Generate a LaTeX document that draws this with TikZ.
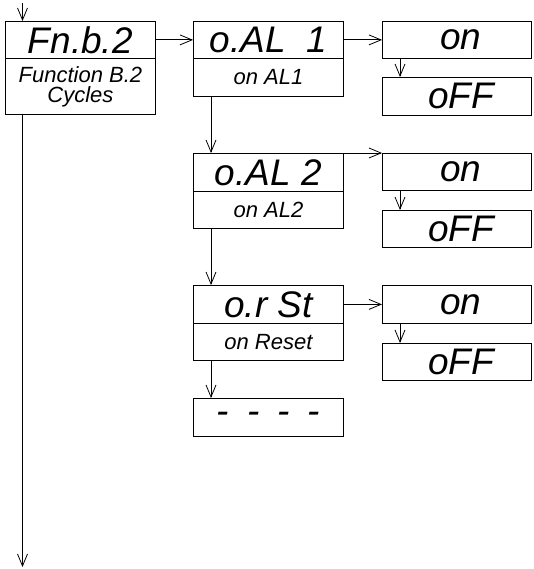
\documentclass[tikz,border=0pt]{standalone}
\usepackage{fontspec}
\setsansfont{Liberation Sans}
\usetikzlibrary{arrows.meta}
\tikzset{
  seg/.style={draw, line width=0.8pt, rectangle, anchor=north west, inner sep=0pt,
    minimum width=150pt, font=\fontsize{37}{37}\sffamily\itshape},
  lab/.style={draw, line width=0.8pt, rectangle, anchor=north west, inner sep=0pt,
    minimum width=150pt, font=\fontsize{22}{20}\sffamily\itshape, align=center},
  conn/.style={line width=0.8pt, -{Straight Barb[length=12pt,width=10pt,line width=0.8pt]}},
}
\begin{document}
\begin{tikzpicture}[x=1pt,y=-1pt]
\useasboundingbox (0,0) rectangle (533,569);
% main column
\node[seg, minimum height=37pt] (fn) at (5,21) {Fn.b.2};
\node[lab, minimum height=56pt] (fnl) at (5,58) {Function B.2\\Cycles};
% second column
\node[seg, minimum height=37pt] (al1) at (193,21) {o.AL\ \ 1};
\node[lab, minimum height=38pt] (al1l) at (193,58) {on AL1};
\node[seg, minimum height=38pt] (al2) at (193,153) {o.AL\ 2};
\node[lab, minimum height=37pt] (al2l) at (193,191) {on AL2};
\node[seg, minimum height=38pt] (rst) at (193,285) {o.r\ St};
\node[lab, minimum height=37pt] (rstl) at (193,323) {on Reset};
\node[seg, minimum height=38pt] (dash) at (193,398) {-\hspace{18pt}-\hspace{18pt}-\hspace{18pt}-};
% third column
\node[seg, minimum width=149pt, minimum height=37pt] (on1) at (382,21) {\hspace{8pt}on};
\node[seg, minimum width=149pt, minimum height=38pt] (off1) at (382,77) {\hspace{8pt}oFF};
\node[seg, minimum width=149pt, minimum height=37pt] (on2) at (382,153) {\hspace{8pt}on};
\node[seg, minimum width=149pt, minimum height=37pt] (off2) at (382,210) {\hspace{8pt}oFF};
\node[seg, minimum width=149pt, minimum height=38pt] (on3) at (382,285) {\hspace{8pt}on};
\node[seg, minimum width=149pt, minimum height=37pt] (off3) at (382,343) {\hspace{8pt}oFF};
% connectors
\coordinate (in) at (22.5,3);
\coordinate (out) at (22.5,567);
\draw[conn] (in) -- (in |- fn.north);
\draw[conn] (fnl.south -| in) -- (out);
\draw[conn] (fn.east) -- (al1.west);
\draw[conn] (al1.east) -- (on1.west);
\draw[conn] ([xshift=18pt]on1.south west) -- ([xshift=18pt]off1.north west);
\draw[conn] ([xshift=18pt]al1l.south west) -- ([xshift=18pt]al2.north west);
\draw[conn] (al2.north east) -- (on2.north west);
\draw[conn] ([xshift=18pt]on2.south west) -- ([xshift=18pt]off2.north west);
\draw[conn] ([xshift=18pt]al2l.south west) -- ([xshift=18pt]rst.north west);
\draw[conn] (rst.east) -- (on3.west);
\draw[conn] ([xshift=18pt]on3.south west) -- ([xshift=18pt]off3.north west);
\draw[conn] ([xshift=18pt]rstl.south west) -- ([xshift=18pt]dash.north west);
\end{tikzpicture}
\end{document}
